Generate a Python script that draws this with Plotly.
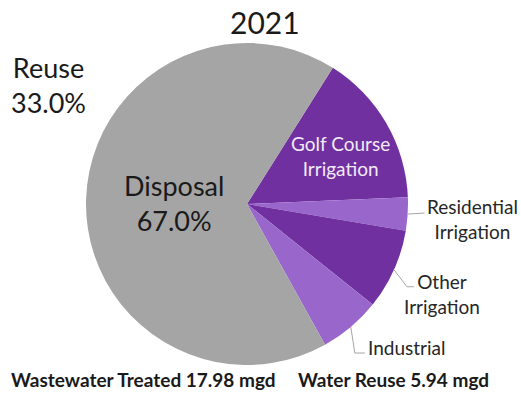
import math
import plotly.graph_objects as go

# ---- data ----
year = "2021"
labels = ["Golf Course Irrigation", "Residential Irrigation", "Other Irrigation", "Industrial", "Disposal"]
values = [15.4, 3.3, 8.1, 6.2, 67.0]
colors = ["#7030A0", "#9966CC", "#7030A0", "#9966CC", "#A5A5A5"]
reuse_pct = 33.0
disposal_pct = 67.0
treated_mgd = 17.98
reuse_mgd = 5.94

# ---- layout ----
W, H = 521, 402
CX, CY, R = 247, 204, 161
START = 32.2  # degrees clockwise from 12 o'clock
FONT = "Lato, 'Open Sans', sans-serif"


def px(x):
    return x / W


def py(y):
    return 1 - y / H


fig = go.Figure(go.Pie(
    labels=labels, values=values, sort=False, direction="clockwise",
    rotation=START, marker=dict(colors=colors, line=dict(width=0)),
    textinfo="none", hoverinfo="label+percent", showlegend=False,
    domain=dict(x=[px(CX - R), px(CX + R)], y=[py(CY + R), py(CY - R)]),
))

total = sum(values)
mids = []
acc = 0
for v in values:
    mids.append(START + (acc + v / 2) / total * 360)
    acc += v


def edge(i):
    a = math.radians(mids[i])
    return CX + R * math.sin(a), CY - R * math.cos(a)


shapes = []
annotations = []
line_style = dict(color="#A6A6A6", width=1)

# Residential
x0, y0 = edge(1)
shapes.append(dict(type="line", xref="paper", yref="paper", x0=px(x0), y0=py(y0),
                   x1=px(x0 + 17), y1=py(y0 - 1), line=line_style))
annotations.append(dict(x=px(472), y=py(219), text="Residential<br>Irrigation",
                        font=dict(size=19, color="#262626")))
# Other
x0, y0 = edge(2)
shapes.append(dict(type="path", xref="paper", yref="paper",
                   path=f"M {px(x0)} {py(y0)} L {px(x0 + 13)} {py(y0 + 17)} L {px(x0 + 20)} {py(y0 + 17)}",
                   line=line_style))
annotations.append(dict(x=px(442), y=py(294), text="Other<br>Irrigation",
                        font=dict(size=19, color="#262626")))
# Industrial
x0, y0 = edge(3)
shapes.append(dict(type="path", xref="paper", yref="paper",
                   path=f"M {px(x0)} {py(y0)} L {px(x0 + 4)} {py(y0 + 26)} L {px(x0 + 14)} {py(y0 + 26)}",
                   line=line_style))
annotations.append(dict(x=px(406), y=py(347), text="Industrial",
                        font=dict(size=19, color="#262626")))
# Golf Course (inside)
annotations.append(dict(x=px(340), y=py(156), text="Golf Course<br>Irrigation",
                        font=dict(size=19, color="#F2EAF7")))
# Disposal
annotations.append(dict(x=px(174), y=py(203), text=f"Disposal<br>{disposal_pct:.1f}%",
                        font=dict(size=27, color="#1A1A1A")))
# Reuse
annotations.append(dict(x=px(9), y=py(85), xanchor="left", text=f"Reuse<br>{reuse_pct:.1f}%",
                        font=dict(size=27, color="#1A1A1A")))
# Title
annotations.append(dict(x=px(265), y=py(22), text=year, font=dict(size=30, color="#1A1A1A")))
# Bottom
annotations.append(dict(x=px(9), y=py(379), xanchor="left",
                        text=f"<b>Wastewater Treated {treated_mgd:.2f} mgd</b>",
                        font=dict(size=19, color="#1A1A1A")))
annotations.append(dict(x=px(296), y=py(379), xanchor="left",
                        text=f"<b>Water Reuse {reuse_mgd:.2f} mgd</b>",
                        font=dict(size=19, color="#1A1A1A")))

for a in annotations:
    a.update(xref="paper", yref="paper", showarrow=False)
    a.setdefault("xanchor", "center")
    a["yanchor"] = "middle"

fig.update_layout(
    width=W, height=H, margin=dict(l=0, r=0, t=0, b=0),
    paper_bgcolor="white", plot_bgcolor="white",
    font=dict(family=FONT),
    shapes=shapes, annotations=annotations,
)
fig.write_html("out.html", config={"displayModeBar": False},
               post_script="document.body.style.margin='0';")
